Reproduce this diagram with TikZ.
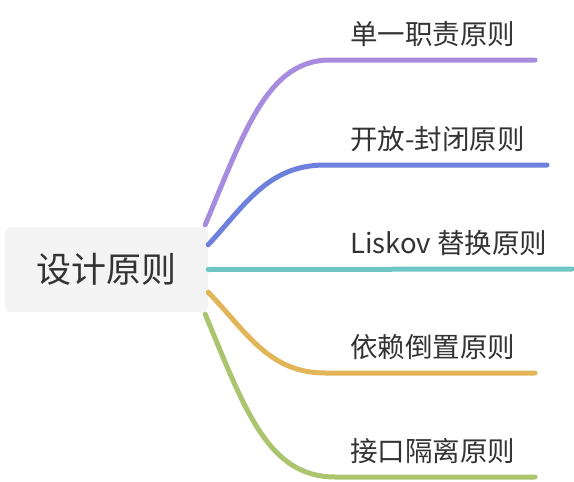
\documentclass[tikz,border=0pt]{standalone}
\usepackage{fontspec}
\setmainfont{Noto Sans CJK SC}
\usetikzlibrary{positioning}

\definecolor{rootfill}{RGB}{244,244,244}
\definecolor{inktext}{RGB}{51,51,51}
\definecolor{brpurple}{RGB}{167,139,222}
\definecolor{brblue}{RGB}{108,128,220}
\definecolor{brteal}{RGB}{111,196,196}
\definecolor{brorange}{RGB}{226,181,88}
\definecolor{brgreen}{RGB}{170,197,110}

\begin{document}
\begin{tikzpicture}[x=1pt, y=-1pt,
    root/.style={
        fill=rootfill,
        rounded corners=6pt,
        minimum width=203pt,
        minimum height=85pt,
        text=inktext,
        font=\fontsize{35}{40}\selectfont
    },
    topic/.style={
        anchor=south west,
        text=inktext,
        inner sep=0pt,
        font=\fontsize{27.5}{30}\selectfont
    },
    branch/.style={
        line width=5pt,
        line cap=round
    }
]
\useasboundingbox (0,0) rectangle (574,482);

\node[root] (core) at (106.5,269.5) {设计原则};

% branch end points
\coordinate (s1) at (330,60);  \coordinate (e1) at (535,60);
\coordinate (s2) at (325,165); \coordinate (e2) at (547,165);
\coordinate (s3) at (330,269); \coordinate (e3) at (572,269);
\coordinate (s4) at (325,373); \coordinate (e4) at (535,373);
\coordinate (s5) at (335,477); \coordinate (e5) at (535,477);

\node[topic] (t1) at (350,47)  {单一职责原则};
\node[topic] (t2) at (350,152) {开放-封闭原则};
\node[topic] (t3) at (350,256) {Liskov 替换原则};
\node[topic] (t4) at (350,360) {依赖倒置原则};
\node[topic] (t5) at (350,464) {接口隔离原则};

\draw[branch, brpurple] ([xshift=-3pt,yshift=2pt]core.north east)
    .. controls (245,130) and (268,60) .. (s1) -- (e1);
\draw[branch, brblue] ([yshift=-18pt]core.north east)
    .. controls (245,205) and (268,165) .. (s2) -- (e2);
\draw[branch, brteal] (core.east) -- (e3);
\draw[branch, brorange] ([yshift=20pt]core.south east)
    .. controls (245,330) and (268,373) .. (s4) -- (e4);
\draw[branch, brgreen] ([xshift=-3pt,yshift=-2pt]core.south east)
    .. controls (245,410) and (268,477) .. (s5) -- (e5);
\end{tikzpicture}
\end{document}
